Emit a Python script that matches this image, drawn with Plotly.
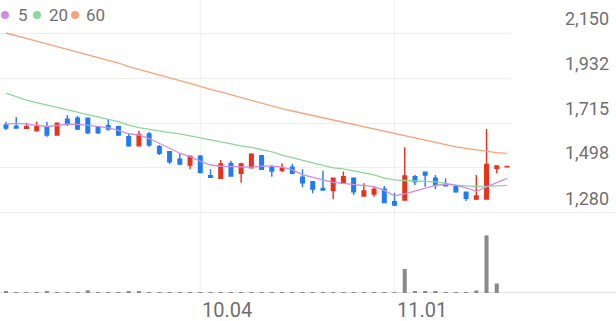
import plotly.graph_objects as go

W, H = 616, 321

dates = ["09.02","09.03","09.04","09.05","09.06","09.09","09.10","09.11","09.12","09.13",
         "09.19","09.20","09.23","09.24","09.25","09.26","09.27","09.30","10.02","10.04",
         "10.07","10.08","10.10","10.11","10.14","10.15","10.16","10.17","10.18","10.21",
         "10.22","10.23","10.24","10.25","10.28","10.29","10.30","10.31","11.01","11.04",
         "11.05","11.06","11.07","11.08","11.11","11.12","11.13","11.14","11.15","11.18"]

opens  = [1705,1700,1689,1678,1697,1657,1733,1738,1738,1692,1702,1697,1649,1605,1662,1600,1576,1540,1512,1555,
          1460,1448,1520,1472,1499,1557,1501,1486,1501,1453,1431,1399,1388,1424,1448,1362,1372,1395,1335,1343,
          1455,1477,1448,1419,1407,1380,1348,1348,1496,1503]
highs  = [1721,1744,1716,1721,1721,1716,1754,1749,1742,1694,1733,1702,1665,1678,1673,1609,1580,1569,1557,1560,
          1491,1536,1533,1523,1569,1560,1512,1520,1517,1491,1431,1484,1450,1480,1453,1424,1410,1410,1378,1598,
          1464,1480,1464,1448,1415,1383,1464,1686,1507,1505]
lows   = [1681,1689,1686,1673,1649,1655,1700,1681,1662,1662,1678,1652,1600,1603,1600,1560,1517,1512,1491,1472,
          1452,1444,1455,1426,1497,1488,1455,1477,1467,1404,1375,1391,1346,1420,1367,1359,1359,1327,1314,1340,
          1415,1407,1395,1412,1378,1338,1343,1348,1472,1503]
closes = [1691,1691,1697,1697,1657,1714,1714,1686,1668,1668,1686,1657,1605,1660,1609,1569,1527,1517,1555,1475,
          1453,1517,1459,1517,1564,1491,1483,1496,1472,1426,1396,1391,1448,1455,1383,1386,1395,1330,1319,1459,
          1431,1464,1415,1412,1383,1351,1362,1515,1507,1505]
volumes = [13,10,10,10,17,10,10,10,27,10,10,10,13,20,10,7,7,7,7,7,
           7,7,7,7,7,7,7,7,7,7,7,7,7,7,7,7,7,10,10,240,
           17,13,13,7,7,7,25,576,95,0]

ma5  = [1710,1713,1710,1703,1698,1703,1709,1708,1705,1699,1691,1679,1663,1657,1640,1618,1593,1569,1552,1531,
        1512,1506,1504,1501,1502,1507,1507,1502,1488,1466,1452,1440,1428,1423,1418,1413,1407,1389,1363,1373,
        1386,1398,1413,1419,1415,1401,1385,1406,1425,1447]
ma20 = [1859,1843,1826,1814,1802,1790,1778,1768,1754,1742,1732,1722,1705,1693,1684,1675,1668,1662,1652,1643,
        1633,1623,1614,1604,1597,1587,1575,1560,1548,1536,1522,1509,1498,1493,1484,1476,1464,1449,1440,1437,
        1435,1432,1430,1423,1415,1411,1408,1409,1412,1414]
ma60 = [2150,2138,2124,2111,2098,2085,2071,2058,2045,2032,2018,2005,1988,1975,1962,1948,1935,1920,1906,1891,
        1878,1865,1851,1838,1825,1812,1797,1784,1773,1762,1751,1740,1730,1718,1708,1697,1686,1675,1664,1652,
        1641,1630,1619,1609,1600,1592,1585,1577,1572,1568]

price_ticks = [1280, 1498, 1715, 1932, 2150]
x_tick_dates = ["10.04", "11.01"]
legend_names = ["5", "20", "60"]

RED = "#e8321c"
BLUE = "#1f7cf2"
C5, C20, C60 = "#cc8fe8", "#8fd69c", "#f9a37e"
GRID = "#efefef"
TXT = "#707070"

x = list(range(len(dates)))

# pixel geometry
plot_bottom_px = 293          # bottom of paper area
price_bottom_px = 213
price_top_value_px = 33
vol_top_px = 225
plot_right_px = 511

per_px = (price_ticks[-1] - price_ticks[0]) / (price_bottom_px - price_top_value_px)
y_top = price_ticks[-1] + price_top_value_px * per_px
spacing = 10.224
x_left = -6 / spacing
x_right = x_left + plot_right_px / spacing

def py(px):
    return (plot_bottom_px - px) / plot_bottom_px

fig = go.Figure()

fig.add_trace(go.Candlestick(
    x=x, open=opens, high=highs, low=lows, close=closes,
    increasing=dict(line=dict(color=RED, width=1.4), fillcolor=RED),
    decreasing=dict(line=dict(color=BLUE, width=1.4), fillcolor=BLUE),
    whiskerwidth=0, xaxis="x", yaxis="y", showlegend=False, hoverinfo="skip"))

for vals, col in [(ma60, C60), (ma20, C20), (ma5, C5)]:
    fig.add_trace(go.Scatter(x=x, y=vals, mode="lines", line=dict(color=col, width=1.3),
                             xaxis="x", yaxis="y", showlegend=False, hoverinfo="skip"))

fig.add_trace(go.Bar(x=x, y=volumes, marker=dict(color="#8a8a8a", line=dict(width=0)),
                     width=0.4, xaxis="x", yaxis="y2", showlegend=False, hoverinfo="skip"))

shapes = []
# vertical date grid lines
for d in x_tick_dates:
    i = dates.index(d)
    shapes.append(dict(type="line", xref="x", yref="paper", x0=i, x1=i, y0=0, y1=1,
                       line=dict(color=GRID, width=1), layer="below"))
# bottom of price panel and volume baseline (full width)
shapes.append(dict(type="line", xref="paper", yref="y", x0=0, x1=1, y0=price_ticks[0], y1=price_ticks[0],
                   line=dict(color="#e6e6e6", width=1.5), layer="below"))
shapes.append(dict(type="line", xref="paper", yref="y2", x0=0, x1=1, y0=0, y1=0,
                   line=dict(color="#e3e3e3", width=2), layer="below"))

# legend dots
leg_cols = [C5, C20, C60]
dot_px = [5, 37, 75]
text_px = [15.5, 46.5, 84]
annotations = []
for name, col, dx, tx in zip(legend_names, leg_cols, dot_px, text_px):
    shapes.append(dict(type="circle", xref="paper", yref="paper", xsizemode="pixel", ysizemode="pixel",
                       xanchor=dx / W, yanchor=py(15), x0=-4, x1=4, y0=-4, y1=4,
                       fillcolor=col, line=dict(width=0)))
    annotations.append(dict(text=name, xref="paper", yref="paper", x=tx / W, y=py(15),
                            xanchor="left", yanchor="middle", showarrow=False,
                            font=dict(family="Roboto", size=17, color=TXT)))

# price labels (right side, above grid lines)
for v in price_ticks:
    annotations.append(dict(text=f"{v:,}", xref="paper", yref="y", x=611 / W, y=v,
                            xanchor="right", yanchor="middle", yshift=15, showarrow=False,
                            font=dict(family="Roboto", size=18, color=TXT)))

# date labels
for d in x_tick_dates:
    annotations.append(dict(text=d, xref="x", yref="paper", x=dates.index(d), y=0,
                            xanchor="left", yanchor="top", xshift=0, yshift=-3, showarrow=False,
                            font=dict(family="Roboto", size=20, color=TXT)))

fig.update_layout(
    width=W, height=H,
    margin=dict(l=0, r=0, t=0, b=H - plot_bottom_px),
    paper_bgcolor="white", plot_bgcolor="white",
    showlegend=False,
    boxgap=0.5,
    xaxis=dict(domain=[0, plot_right_px / W], range=[x_left, x_right], anchor="y2",
               showgrid=False, zeroline=False, showticklabels=False, ticks="",
               rangeslider=dict(visible=False), fixedrange=True),
    yaxis=dict(domain=[py(price_bottom_px), 1], range=[price_ticks[0], y_top], anchor="x",
               tickvals=price_ticks[1:], showticklabels=False, showgrid=True, gridcolor=GRID,
               gridwidth=1, zeroline=False, ticks="", fixedrange=True),
    yaxis2=dict(domain=[0, py(vol_top_px)], range=[0, (plot_bottom_px - vol_top_px) * 10], anchor="x",
                showgrid=False, zeroline=False, showticklabels=False, ticks="", fixedrange=True),
    shapes=shapes,
    annotations=annotations,
)

fig.write_html("out.html")
